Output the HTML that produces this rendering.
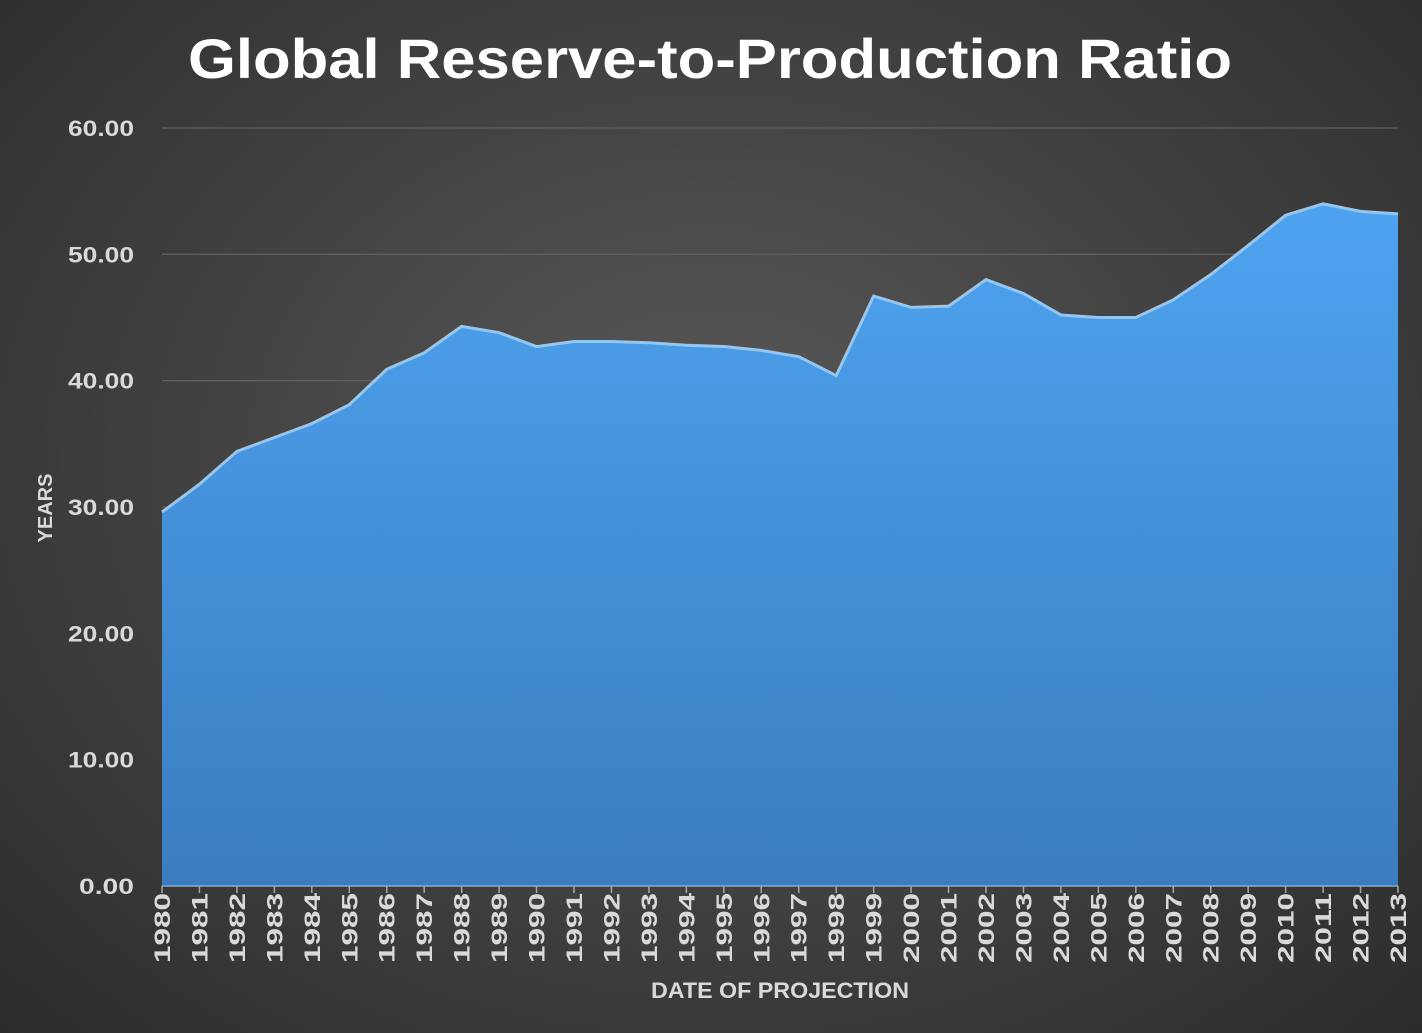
<!DOCTYPE html>
<html><head><meta charset="utf-8"><style>
html,body{margin:0;padding:0;}
body{width:1422px;height:1033px;overflow:hidden;background:radial-gradient(ellipse at 50% 45%,#5a5a5a 0%,#444 45%,#2c2c2c 100%);font-family:"Liberation Sans",sans-serif;}
</style></head><body>
<svg id="chart" width="1422" height="1033" xmlns="http://www.w3.org/2000/svg" style="display:block">
<defs>
<linearGradient id="fillg" x1="0" y1="0" x2="0" y2="1">
<stop offset="0" stop-color="#4ea3f0"/><stop offset="1" stop-color="#3a7dbf"/>
</linearGradient>
</defs>
<text x="188" y="78" textLength="1044" lengthAdjust="spacingAndGlyphs" fill="#fff" font-size="56" font-weight="bold">Global Reserve-to-Production Ratio</text>
<g id="grid"></g>
<g id="area"></g>
<g id="axes"></g>
<text transform="translate(52,508) rotate(-90)" text-anchor="middle" fill="#d9d9d9" font-size="20" font-weight="bold">YEARS</text>
<text x="651" y="998" textLength="258" lengthAdjust="spacingAndGlyphs" fill="#d9d9d9" font-size="22" font-weight="bold">DATE OF PROJECTION</text>
</svg>
<script>
const years = [1980,1981,1982,1983,1984,1985,1986,1987,1988,1989,1990,1991,1992,1993,1994,1995,1996,1997,1998,1999,2000,2001,2002,2003,2004,2005,2006,2007,2008,2009,2010,2011,2012,2013];
const ratios = [29.6,31.8,34.4,35.5,36.6,38.1,40.9,42.2,44.3,43.8,42.7,43.1,43.1,43.0,42.8,42.7,42.4,41.9,40.4,46.7,45.8,45.9,48.0,46.9,45.2,45.0,45.0,46.4,48.4,50.7,53.1,54.0,53.4,53.2];
const yTicks = [0,10,20,30,40,50,60];
const NS="http://www.w3.org/2000/svg";
const x0=162,x1=1398,yb=886,yt=128,ymax=60;
const xs=i=>x0+(x1-x0)*i/(years.length-1);
const ys=v=>yb-(yb-yt)*v/ymax;
function mk(tag,attrs,parent){const e=document.createElementNS(NS,tag);for(const k in attrs)e.setAttribute(k,attrs[k]);parent.appendChild(e);return e;}
const grid=document.getElementById('grid'),area=document.getElementById('area'),axes=document.getElementById('axes');
yTicks.forEach(t=>{
  if(t>0){const l=mk('line',{x1:x0,x2:x1,y1:ys(t),y2:ys(t),stroke:'#5f5f5f','stroke-width':1.3},grid);
  
  }
  const s=t.toFixed(2);
  const tx=mk('text',{x:134,y:ys(t)+8,'text-anchor':'end',fill:'#d9d9d9','font-size':22,'font-weight':'bold',textLength:(s.length===5?66:55),lengthAdjust:'spacingAndGlyphs'},axes);
  tx.textContent=s;
  
  
});
let d='M'+xs(0)+','+yb;
ratios.forEach((v,i)=>{d+=' L'+xs(i)+','+ys(v);});
d+=' L'+xs(ratios.length-1)+','+yb+' Z';
const p=mk('path',{d:d,fill:'url(#fillg)'},area);


let d2='';
ratios.forEach((v,i)=>{d2+=(i?' L':'M')+xs(i)+','+ys(v);});
const ln=mk('path',{d:d2,fill:'none',stroke:'#8cc8fa','stroke-width':3},area);


const ax=mk('line',{x1:x0,x2:x1,y1:yb,y2:yb,stroke:'#a6a6a6','stroke-width':1.5},axes);


years.forEach((yr,i)=>{
  const tk=mk('line',{x1:xs(i),x2:xs(i),y1:yb,y2:yb+7,stroke:'#a6a6a6','stroke-width':1.5},axes);
  
  
  const t=mk('text',{transform:'translate('+(xs(i)+8)+','+(yb+7)+') rotate(-90)','text-anchor':'end',fill:'#d9d9d9','font-size':22,'font-weight':'bold',textLength:70,lengthAdjust:'spacingAndGlyphs'},axes);
  t.textContent=yr;
  
  
});
</script>
</body></html>
